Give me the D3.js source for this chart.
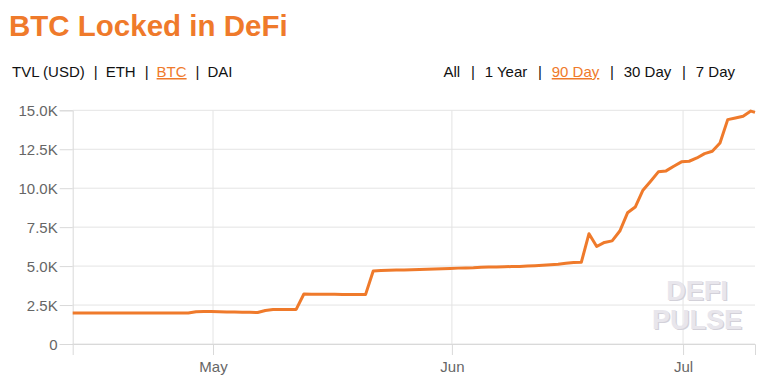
<!DOCTYPE html>
<html>
<head>
<meta charset="utf-8">
<script src="https://cdn.jsdelivr.net/npm/d3@7"></script>
<style>
  body { margin: 0; background: #fff; }
  svg { display: block; font-family: "Liberation Sans", Arial, sans-serif; }
</style>
</head>
<body>
<svg id="chart" width="775" height="390"></svg>
<script>
// daily snapshots, first one on Apr 12 evening, last one is a partial day
const startDate = new Date(2020, 3, 12, 19);
const lastDate = new Date(2020, 6, 10, 8);
const btcLocked = [
  1990, 1990, 1990, 1990, 1990, 1990, 1990, 1990, 1990, 1990, 1990, 1990, 1990, 1990, 1990, 1990,
  2070, 2080, 2080, 2070, 2060, 2050, 2040, 2030, 2020,
  2150, 2210, 2220, 2220, 2220,
  3210, 3200, 3200, 3190, 3190, 3180, 3180, 3170, 3170,
  4690, 4720, 4740, 4745, 4750, 4760, 4780, 4800, 4810, 4830, 4850, 4870, 4880, 4890, 4920, 4950,
  4950, 4960, 4970, 4980, 5000, 5020,
  5050, 5080, 5120, 5180, 5230, 5240,
  7080, 6260, 6520, 6620, 7250, 8420, 8790, 9870, 10450, 11050, 11110, 11410, 11690, 11730, 11940,
  12220, 12370, 12900, 14400, 14510, 14620, 14950
];
const lastValue = 14870;
const yTicks = [0, 2500, 5000, 7500, 10000, 12500, 15000];
const assetTabs = ["TVL (USD)", "ETH", "BTC", "DAI"];
const rangeTabs = ["All", "1 Year", "90 Day", "30 Day", "7 Day"];

const orange = "#ef7a2b";
const data = btcLocked.map((v, i) => ({ date: d3.timeDay.offset(startDate, i), value: v }));
data.push({ date: lastDate, value: lastValue });

const svg = d3.select("#chart");
const margin = { left: 72.7, right: 20, top: 110.3, bottom: 46 };
const width = 775, height = 390;

const x = d3.scaleTime()
  .domain([startDate, lastDate])
  .range([margin.left, width - margin.right]);
const y = d3.scaleLinear()
  .domain([0, 15000])
  .range([height - margin.bottom, margin.top]);

// title
svg.append("text")
  .attr("x", 9)
  .attr("y", 36)
  .attr("fill", orange)
  .attr("font-size", 29.5)
  .attr("font-weight", "bold")
  .text("BTC Locked in DeFi");

// tab rows, items separated by pipes with wide gaps
const tabRow = (items, active, xPos, anchor, gap) => {
  const t = svg.append("text")
    .attr("x", xPos)
    .attr("y", 77)
    .attr("font-size", 15)
    .attr("fill", "#111")
    .attr("text-anchor", anchor);
  items.forEach((item, i) => {
    if (i > 0) t.append("tspan").attr("dx", gap + 1).text("|");
    t.append("tspan")
      .attr("dx", i > 0 ? gap : 0)
      .attr("fill", item === active ? orange : null)
      .attr("text-decoration", item === active ? "underline" : null)
      .text(item);
  });
};
tabRow(assetTabs, "BTC", 12, "start", 8);
tabRow(rangeTabs, "90 Day", 735, "end", 9.8);

// grid
const grid = svg.append("g");
grid.selectAll(".hgrid")
  .data(yTicks)
  .enter()
  .append("line")
  .attr("x1", margin.left)
  .attr("x2", width - margin.right)
  .attr("y1", d => y(d))
  .attr("y2", d => y(d))
  .attr("stroke", "#e4e4e4");
grid.selectAll(".vgrid")
  .data(x.ticks(d3.timeMonth))
  .enter()
  .append("line")
  .attr("x1", d => x(d))
  .attr("x2", d => x(d))
  .attr("y1", margin.top)
  .attr("y2", height - margin.bottom)
  .attr("stroke", "#e4e4e4");

// axes
const yAxis = svg.append("g")
  .attr("transform", `translate(${margin.left},0)`)
  .call(d3.axisLeft(y)
    .tickValues(yTicks)
    .tickSize(13)
    .tickPadding(2)
    .tickFormat(d => d === 0 ? "0" : (d / 1000).toFixed(1) + "K"));
const xAxis = svg.append("g")
  .attr("transform", `translate(0,${height - margin.bottom})`)
  .call(d3.axisBottom(x)
    .ticks(d3.timeMonth)
    .tickSize(11)
    .tickPadding(6)
    .tickFormat(d3.timeFormat("%b")));

[yAxis, xAxis].forEach(a => {
  a.select(".domain").attr("stroke", "#d9d9d9");
  a.selectAll(".tick line").attr("stroke", "#d9d9d9");
  a.selectAll("text")
    .attr("fill", "#666")
    .attr("font-size", 15)
    .attr("font-family", "'Liberation Sans', Arial, sans-serif");
});
yAxis.selectAll("text").attr("dy", "0.35em");

// watermark
const wm = svg.append("g")
  .attr("font-size", 27)
  .attr("font-weight", "bold")
  .attr("text-anchor", "middle");
[["DEFI", 300], ["PULSE", 329]].forEach(([word, yy]) => {
  wm.append("text").attr("x", 698.2).attr("y", yy + 1.2).attr("fill", "#d3d1d9").text(word);
  wm.append("text").attr("x", 697).attr("y", yy).attr("fill", "#e8e6ec").text(word);
});

// line
const line = d3.line()
  .x(d => x(d.date))
  .y(d => y(d.value));
svg.append("path")
  .datum(data)
  .attr("fill", "none")
  .attr("stroke", orange)
  .attr("stroke-width", 3)
  .attr("stroke-linejoin", "round")
  .attr("d", line);
</script>
</body>
</html>
